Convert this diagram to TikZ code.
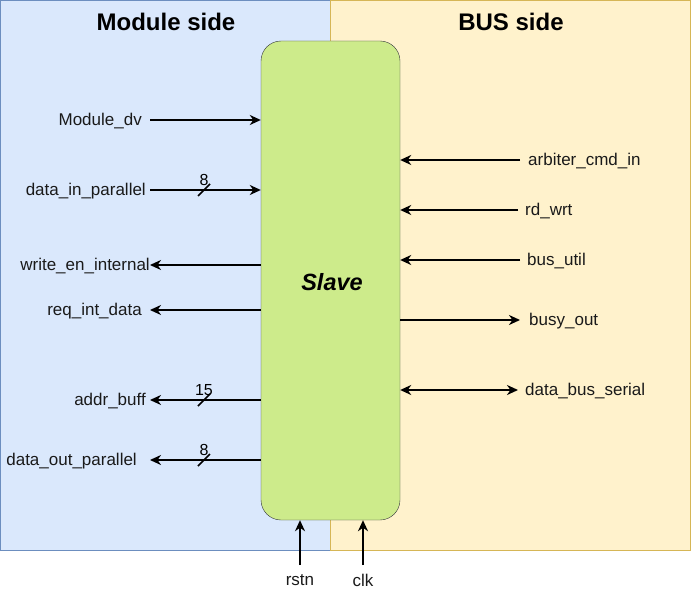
\documentclass[tikz,border=0pt]{standalone}
\usepackage{fontspec}
\setmainfont{Liberation Sans}
\usetikzlibrary{arrows.meta}
\definecolor{modfill}{HTML}{DAE8FC}
\definecolor{modline}{HTML}{6C8EBF}
\definecolor{busfill}{HTML}{FFF2CC}
\definecolor{busline}{HTML}{D6B656}
\definecolor{slavefill}{HTML}{CDEB8B}
\definecolor{slaveline}{HTML}{36393D}
\definecolor{txt}{HTML}{1A1A1A}
\tikzset{
  sig/.style={line width=2pt,-{Stealth[length=11pt,width=10pt,inset=3.5pt]}},
  bisig/.style={line width=2pt,{Stealth[length=11pt,width=10pt,inset=3.5pt]}-{Stealth[length=11pt,width=10pt,inset=3.5pt]}},
  lbl/.style={font=\fontsize{17}{19}\selectfont, text=txt, inner sep=4pt},
  title/.style={font=\fontsize{24}{26}\selectfont\bfseries},
  widthlbl/.style={font=\fontsize{16}{18}\selectfont, inner sep=1pt, anchor=south},
  slash/.style={line width=1.5pt}
}
\begin{document}
\begin{tikzpicture}[x=1pt,y=-1pt]
\useasboundingbox (0,0) rectangle (691,591);
\draw[fill=modfill,draw=modline] (0.5,0.5) rectangle (330,550);
\draw[fill=busfill,draw=busline] (330,0.5) rectangle (690.5,550);
\node[title] (tmod) at (166,22) {Module side};
\node[title] (tbus) at (511,22) {BUS side};
\node[draw=slaveline,fill=slavefill,rounded corners=20pt,minimum width=139pt,minimum height=479pt,inner sep=0pt] (slave) at (330.5,280.5) {};
\node[font=\fontsize{23.5}{26}\selectfont\bfseries\itshape] (slavelbl) at (332,282) {Slave};

% left side
\node[lbl,anchor=east] (mdv) at (146,121.5) {Module\_dv};
\coordinate (mdve) at (150,120);
\draw[sig] (mdve) -- (mdve -| slave.west);
\node[lbl,anchor=east] (dip) at (150,191.5) {data\_in\_parallel};
\coordinate (dipe) at (150,190);
\draw[sig] (dipe) -- (dipe -| slave.west);
\coordinate (s1) at (204,190);
\draw[slash] ([shift={(-6,6)}]s1) -- ([shift={(6,-6)}]s1);
\node[widthlbl] (w1) at (204,187) {8};

\node[lbl,anchor=east] (wei) at (154,266.5) {write\_en\_internal};
\coordinate (weie) at (150,265);
\draw[sig] (weie -| slave.west) -- (weie);
\node[lbl,anchor=east] (rid) at (146,311.5) {req\_int\_data};
\coordinate (ride) at (150,310);
\draw[sig] (ride -| slave.west) -- (ride);
\node[lbl,anchor=east] (ab) at (150,401.5) {addr\_buff};
\coordinate (abe) at (150,400);
\draw[sig] (abe -| slave.west) -- (abe);
\coordinate (s2) at (204,400);
\draw[slash] ([shift={(-6,6)}]s2) -- ([shift={(6,-6)}]s2);
\node[widthlbl] (w2) at (204,397) {15};
\node[lbl,anchor=east] (dop) at (141,461.5) {data\_out\_parallel};
\coordinate (dope) at (150,460);
\draw[sig] (dope -| slave.west) -- (dope);
\coordinate (s3) at (204,460);
\draw[slash] ([shift={(-6,6)}]s3) -- ([shift={(6,-6)}]s3);
\node[widthlbl] (w3) at (204,457) {8};

% right side
\node[lbl,anchor=west] (aci) at (524,161.5) {arbiter\_cmd\_in};
\coordinate (acie) at (520,160);
\draw[sig] (acie) -- (acie -| slave.east);
\node[lbl,anchor=west] (rw) at (521,211.5) {rd\_wrt};
\coordinate (rwe) at (518,210);
\draw[sig] (rwe) -- (rwe -| slave.east);
\node[lbl,anchor=west] (bu) at (523,261.5) {bus\_util};
\coordinate (bue) at (520,260);
\draw[sig] (bue) -- (bue -| slave.east);
\node[lbl,anchor=west] (bo) at (525,321.5) {busy\_out};
\coordinate (boe) at (520,320);
\draw[sig] (boe -| slave.east) -- (boe);
\node[lbl,anchor=west] (dbs) at (521,391.5) {data\_bus\_serial};
\coordinate (dbse) at (518,390);
\draw[bisig] (dbse -| slave.east) -- (dbse);

% bottom
\node[lbl] (rstn) at (300,580) {rstn};
\coordinate (rstne) at (300,565);
\draw[sig] (rstne) -- (rstne |- slave.south);
\node[lbl] (clk) at (363,580) {clk};
\coordinate (clke) at (363,565);
\draw[sig] (clke) -- (clke |- slave.south);
\end{tikzpicture}
\end{document}
